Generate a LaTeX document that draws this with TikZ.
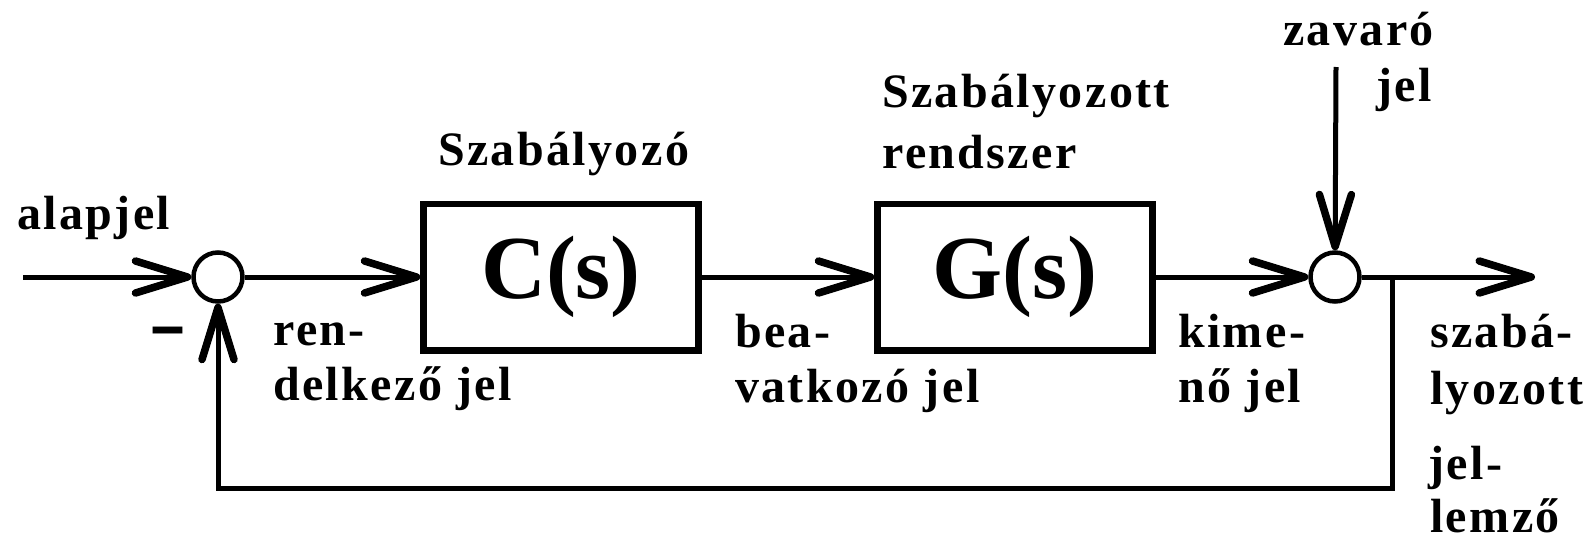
\documentclass[tikz,border=0pt]{standalone}
\usepackage{fontspec}
\setmainfont{Liberation Serif}
\newfontfamily\lblfam[LetterSpace=5]{Liberation Serif}
\usetikzlibrary{arrows.meta}
\tikzset{
  lbl/.style={inner sep=0pt, anchor=base west, font=\lblfam\bfseries\fontsize{48}{55}\selectfont},
  blk/.style={draw, line width=6.5pt, minimum width=275pt, minimum height=146.5pt, inner sep=0pt,
              font=\bfseries\fontsize{90}{100}\selectfont},
  sumc/.style={draw, circle, line width=4.5pt, minimum size=49pt, inner sep=0pt},
  conn/.style={line width=5pt},
  arr/.style={conn, -{Straight Barb[length=52pt, width=32pt, line width=7.5pt, round]}}
}
\begin{document}
\begin{tikzpicture}[x=1pt, y=-1pt]
\useasboundingbox (0,0) rectangle (1588,541);
% blocks
\node[sumc] (s1) at (218,277) {};
\node[blk] (C) at (561,277) {C(s)};
\node[blk] (G) at (1015,277) {G(s)};
\node[sumc] (s2) at (1335,277) {};
% free ends
\coordinate (in) at (23,277);
\coordinate (out) at (1535,277);
\coordinate (dist) at (1336,67);
\coordinate (fb) at (1392,277);
\coordinate (fbb) at (1392,488);
% connectors
\draw[arr] (in) -- (s1);
\draw[arr] (s1) -- (C);
\draw[arr] (C) -- (G);
\draw[arr] (G) -- (s2);
\draw[arr] (s2) -- (out);
\draw[arr] (dist) -- (s2);
\draw[arr] (fb) -- (fbb) -| (s1.south);
% labels
\node[lbl] (lalap) at (17,229) {alapjel};
\node[inner sep=0pt, anchor=base, font=\bfseries\fontsize{58}{60}\selectfont] (lminus) at (168,353) {\scalebox{1}[1.7]{\textendash}};
\node[lbl] (lren1) at (273,345) {ren-};
\node[lbl] (lren2) at (273,400) {delkező jel};
\node[lbl] (lszab) at (438,165) {Szabályozó};
\node[lbl] (lbea1) at (735,347) {bea-};
\node[lbl] (lbea2) at (735,402) {vatkozó jel};
\node[lbl] (lsr1) at (882,107) {Szabályozott};
\node[lbl] (lsr2) at (882,168) {rendszer};
\node[lbl] (lkim1) at (1178,347) {kime-};
\node[lbl] (lkim2) at (1178,402) {nő jel};
\node[lbl] (lzav1) at (1283,45) {zavaró};
\node[lbl] (lzav2) at (1376,101) {jel};
\node[lbl] (lsz1) at (1430,347) {szabá-};
\node[lbl] (lsz2) at (1430,404) {lyozott};
\node[lbl] (lsz3) at (1428,479) {jel-};
\node[lbl] (lsz4) at (1430,532) {lemző};
\end{tikzpicture}
\end{document}
